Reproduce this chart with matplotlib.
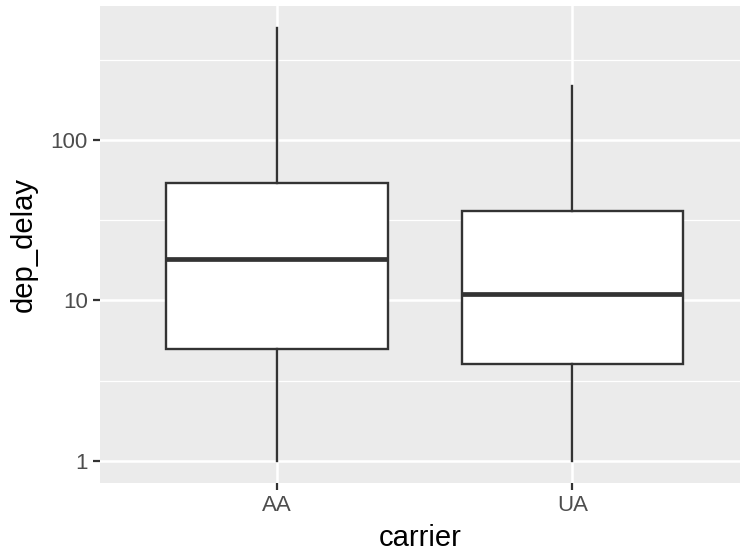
import numpy as np
import matplotlib
matplotlib.use("Agg")
import matplotlib.pyplot as plt
from matplotlib.ticker import FixedLocator, NullFormatter

# Departure delay summary per carrier (minutes)
carriers = ["AA", "UA"]
whisker_low = [1, 1]
q1 = [5, 4]
median = [18, 11]
q3 = [54, 36]
whisker_high = [500, 218]

plt.rcParams["font.family"] = ["Liberation Sans", "DejaVu Sans"]

fig = plt.figure(figsize=(7.40, 5.53), dpi=100)
W, H = 740, 553
left, right, top, bottom = 100, 740, 6, 482.7
ax = fig.add_axes([left / W, 1 - bottom / H, (right - left) / W, (bottom - top) / H])
ax.set_facecolor("#EBEBEB")

stats = []
for i, c in enumerate(carriers):
    stats.append(dict(label=c, whislo=whisker_low[i], q1=q1[i], med=median[i],
                      q3=q3[i], whishi=whisker_high[i], fliers=[]))

positions = np.arange(1, len(carriers) + 1)
line = "#333333"
ax.bxp(stats, positions=positions, widths=0.75, showcaps=False, patch_artist=True,
       boxprops=dict(facecolor="white", edgecolor=line, linewidth=1.7),
       whiskerprops=dict(color=line, linewidth=1.7),
       medianprops=dict(color=line, linewidth=3.4, solid_capstyle="butt"),
       zorder=3)

ax.set_yscale("log")
lo = np.log10(min(whisker_low))
hi = np.log10(max(whisker_high))
pad = 0.05 * (hi - lo)
ax.set_ylim(10 ** (lo - pad), 10 ** (hi + pad))
ax.set_xlim(0.4, 0.4 + (right - left) / 295.3)

ax.yaxis.set_major_locator(FixedLocator([1, 10, 100]))
ax.yaxis.set_minor_locator(FixedLocator([10 ** 0.5, 10 ** 1.5, 10 ** 2.5]))
ax.yaxis.set_minor_formatter(NullFormatter())
ax.set_yticklabels(["1", "10", "100"])
ax.set_xticks(positions)
ax.set_xticklabels(carriers)

ax.grid(True, which="major", color="white", linewidth=1.8, zorder=0)
ax.grid(True, which="minor", axis="y", color="white", linewidth=0.9, zorder=0)
ax.set_axisbelow(True)
for s in ax.spines.values():
    s.set_visible(False)

ax.tick_params(axis="both", which="major", length=5.2, width=1.6, color="#333333",
               labelcolor="#4D4D4D", labelsize=16, pad=3.5)
ax.tick_params(axis="y", which="minor", length=0)

ax.set_xlabel("carrier", fontsize=21, color="black", labelpad=6)
ax.set_ylabel("dep_delay", fontsize=21, color="black", labelpad=9)

fig.savefig("out.png", dpi=100, facecolor="white")
